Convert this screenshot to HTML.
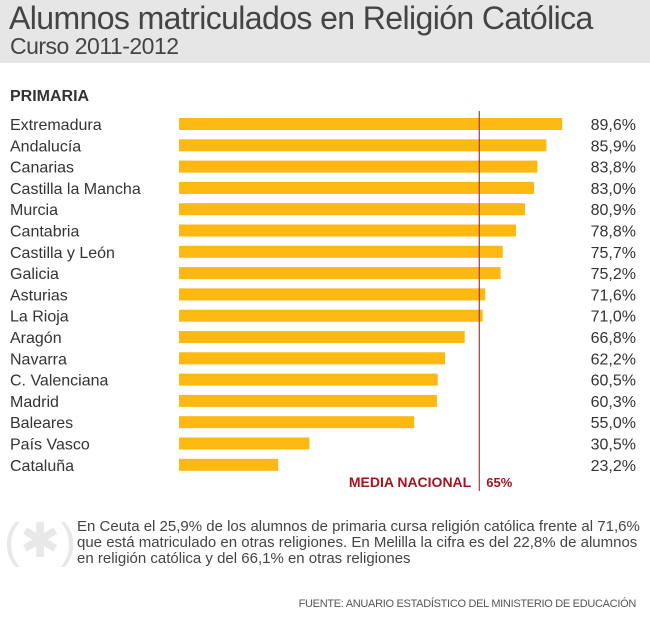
<!DOCTYPE html>
<html><head><meta charset="utf-8"><style>
body{margin:0;width:650px;height:620px;background:#fff;font-family:"Liberation Sans",sans-serif;overflow:hidden;position:relative}
.hdr{position:absolute;left:0;top:0;width:650px;height:63px;background:#e6e6e6}
.t1{position:absolute;left:9px;top:0px;font-size:32px;color:#444;letter-spacing:-0.6px;white-space:nowrap}
.t2{position:absolute;left:10px;top:33px;font-size:23px;color:#444;letter-spacing:-0.5px}
.sec{position:absolute;left:10px;top:88px;font-size:16px;font-weight:bold;color:#333}
svg{position:absolute;left:0;top:0}
.note{position:absolute;left:77px;top:519px;font-size:15px;color:#444;line-height:16px;white-space:nowrap;letter-spacing:0px}
.src{position:absolute;right:14px;top:598px;font-size:11px;color:#555;letter-spacing:-0.3px}
.ast{position:absolute;left:4px;top:516px;font-size:48px;color:#e8e8e8;line-height:52px}
</style></head><body>
<div class="hdr"></div>
<div class="t1">Alumnos matriculados en Religión Católica</div>
<div class="t2">Curso 2011-2012</div>
<div class="sec">PRIMARIA</div>
<svg id="c" width="650" height="620"></svg>
<div class="ast">(✱)</div>
<div class="note">En Ceuta el 25,9% de los alumnos de primaria cursa religión católica frente al 71,6%<br>que está matriculado en otras religiones. En Melilla la cifra es del 22,8% de alumnos<br>en religión católica y del 66,1% en otras religiones</div>
<div class="src">FUENTE: ANUARIO ESTADÍSTICO DEL MINISTERIO DE EDUCACIÓN</div>
<script>
const categories=["Extremadura","Andalucía","Canarias","Castilla la Mancha","Murcia","Cantabria","Castilla y León","Galicia","Asturias","La Rioja","Aragón","Navarra","C. Valenciana","Madrid","Baleares","País Vasco","Cataluña"];
const values=[89.6,85.9,83.8,83.0,80.9,78.8,75.7,75.2,71.6,71.0,66.8,62.2,60.5,60.3,55.0,30.5,23.2];
const mediaValue=70.2;
const mediaLabel="65%";
const svg=document.getElementById('c');const NS='http://www.w3.org/2000/svg';
const x=v=>179+v*4.277;
const y=i=>124+i*21.3;
function mk(t,a){const e=document.createElementNS(NS,t);for(const k in a)e.setAttribute(k,a[k]);svg.appendChild(e);return e;}
categories.forEach((c,i)=>{
 const b=mk('rect',{x:x(0),y:y(i)-6,width:x(values[i])-x(0),height:12,fill:'#fdb812'});
 
 
 const l=mk('text',{x:10,y:y(i)+6,'font-size':16,fill:'#333'});l.textContent=c;
 
 
 const v=mk('text',{x:636,y:y(i)+6,'font-size':16,fill:'#333','text-anchor':'end'});v.textContent=values[i].toFixed(1).replace('.',',')+'%';
 
 
});
const ml=mk('line',{x1:x(mediaValue),x2:x(mediaValue),y1:111,y2:491,stroke:'#8b1a1a','stroke-width':1});


const mt=mk('text',{x:x(mediaValue)-8,y:487,'font-size':14,'font-weight':'bold',fill:'#a5141e','text-anchor':'end'});mt.textContent='MEDIA NACIONAL';


const mv=mk('text',{x:x(mediaValue)+7,y:487,'font-size':13,'font-weight':'bold',fill:'#a5141e'});mv.textContent=mediaLabel;


</script>
</body></html>
